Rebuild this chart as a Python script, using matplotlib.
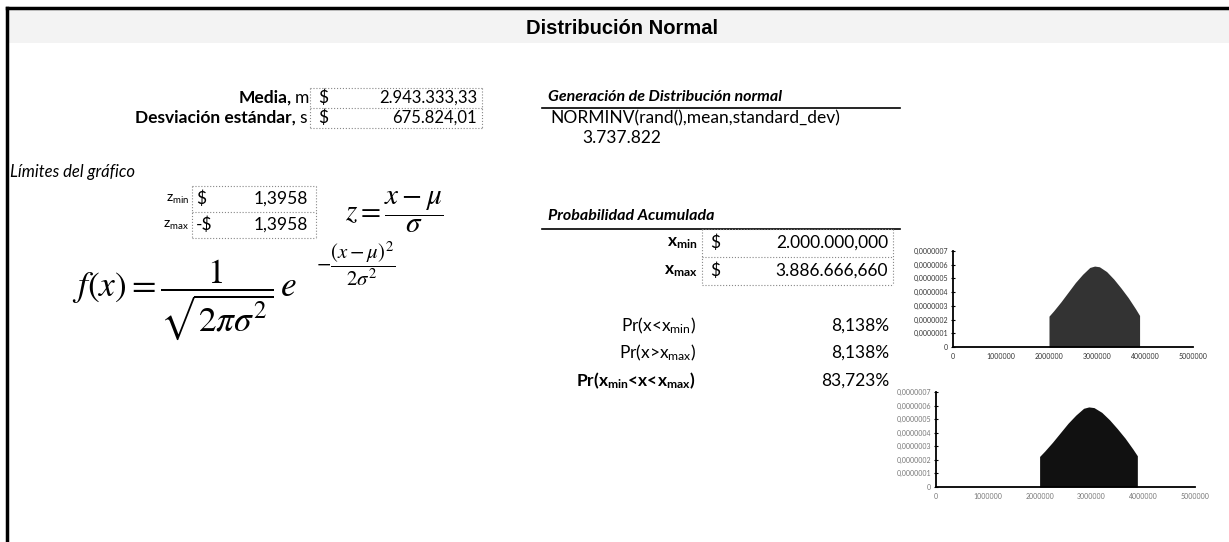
import matplotlib.pyplot as plt
import matplotlib.patches as mpatches

plt.rcParams.update({
    'font.family': ['Lato', 'DejaVu Sans'],
    'mathtext.fontset': 'custom',
    'mathtext.rm': 'Lato',
    'mathtext.it': 'Lato:italic',
    'mathtext.bf': 'Lato:bold',
})

# ---------------------------------------------------------------
# values
# ---------------------------------------------------------------
media_txt = '2.943.333,33'
desv_txt = '675.824,01'
z_vals = ['1,3958', '1,3958']
z_signs = ['$', '-$']
norminv_txt = 'NORMINV(rand(),mean,standard_dev)'
sample_txt = '3.737.822'
x_limits = ['2.000.000,000', '3.886.666,660']
prob_labels = ['Pr(x<x$_{\\rm min}$)', 'Pr(x>x$_{\\rm max}$)',
               'Pr(x$_{\\bf min}$<x<x$_{\\bf max}$)']
prob_vals = ['8,138%', '8,138%', '83,723%']

# shaded normal curve between x_min and x_max (y in 1e-7)
pdf_x = [2.0e6, 2.1e6, 2.25e6, 2.4e6, 2.55e6, 2.7e6, 2.85e6, 2.95e6,
         3.05e6, 3.2e6, 3.35e6, 3.5e6, 3.65e6, 3.8e6, 3.887e6]
pdf_y = [2.25, 2.65, 3.3, 4.0, 4.7, 5.3, 5.8, 5.9,
         5.85, 5.5, 4.95, 4.3, 3.6, 2.8, 2.3]
x_ticks = [0, 1000000, 2000000, 3000000, 4000000, 5000000]
y_ticks = [0, 1, 2, 3, 4, 5, 6, 7]
y_tick_labels = ['0', '0,0000001', '0,0000002', '0,0000003', '0,0000004',
                 '0,0000005', '0,0000006', '0,0000007']

W, H = 1229, 542
fig = plt.figure(figsize=(W / 100, H / 100), dpi=100)
bg = fig.add_axes([0, 0, 1, 1])
bg.set_xlim(0, W)
bg.set_ylim(H, 0)
bg.axis('off')

FS = 12.5
HS = 11.5   # bold italic headings


def box(x0, x1, ys):
    # dotted cell grid
    for y in ys:
        bg.plot([x0, x1], [y, y], color='#888888', lw=0.8, ls=':')
    for x in (x0, x1):
        bg.plot([x, x], [ys[0], ys[-1]], color='#888888', lw=0.8, ls=':')


# frame and header band
bg.add_patch(mpatches.Rectangle((7, 8), W, 35, color='#f3f3f3', lw=0))
bg.plot([7, W], [8, 8], color='black', lw=2.5)
bg.plot([7, 7], [8, H], color='black', lw=2.5)
bg.text(622, 28, 'Distribución Normal', ha='center', va='center',
        fontsize=14.5, fontweight='bold', family='Liberation Sans')

# mean / sd block
bg.text(292, 98, 'Media,', ha='right', va='center', fontsize=FS, fontweight='bold')
bg.text(295, 98, 'm', ha='left', va='center', fontsize=FS)
bg.text(296, 118, 'Desviación estándar,', ha='right', va='center',
        fontsize=FS, fontweight='bold')
bg.text(299, 118, 's', ha='left', va='center', fontsize=FS)
box(310, 482, [88, 108, 128])
for y, v in zip([98, 118], [media_txt, desv_txt]):
    bg.text(318, y, '$', ha='left', va='center', fontsize=FS, parse_math=False)
    bg.text(477, y, v, ha='right', va='center', fontsize=FS - 0.5)

# limits block
bg.text(10, 172, 'Límites del gráfico', ha='left', va='center',
        fontsize=FS - 0.5, style='italic')
box(192, 316, [186, 212, 238])
for y, sub, sg, v in zip([199, 225], ['min', 'max'], z_signs, z_vals):
    bg.text(189, y, 'z$_{\\rm %s}$' % sub, ha='right', va='center', fontsize=FS - 2.5)
    bg.text(196, y, sg, ha='left', va='center', fontsize=FS, parse_math=False)
    bg.text(308, y, v, ha='right', va='center', fontsize=FS)

bg.text(345, 212, r'$z=\dfrac{x-\mu}{\sigma}$', ha='left', va='center',
        fontsize=21, math_fontfamily='stix')
bg.text(72, 300, r'$f(x)=\dfrac{1}{\sqrt{2\pi\sigma^2}}\,e$', ha='left',
        va='center', fontsize=25.5, math_fontfamily='stix')
bg.text(316, 264, r'$-\dfrac{(x-\mu)^2}{2\sigma^2}$', ha='left', va='center',
        fontsize=15, math_fontfamily='stix')

# generation block
bg.text(548, 97, 'Generación de Distribución normal', ha='left', va='center',
        fontsize=HS, fontweight='bold', style='italic')
bg.plot([542, 900], [108, 108], color='black', lw=1.2)
bg.text(550, 118, norminv_txt, ha='left', va='center', fontsize=FS)
bg.text(582, 138, sample_txt, ha='left', va='center', fontsize=FS)

# cumulative probability block
bg.text(548, 216, 'Probabilidad Acumulada', ha='left', va='center',
        fontsize=HS, fontweight='bold', style='italic')
bg.plot([542, 900], [229, 229], color='black', lw=1.2)
box(702, 893, [229, 257, 285])
for y, sub, v in zip([243, 271], ['min', 'max'], x_limits):
    bg.text(698, y, 'x$_{\\bf %s}$' % sub, ha='right', va='center',
            fontsize=FS, fontweight='bold')
    bg.text(710, y, '$', ha='left', va='center', fontsize=FS, parse_math=False)
    bg.text(888, y, v, ha='right', va='center', fontsize=FS)
for y, lab, v, wt in zip([326, 353, 381], prob_labels, prob_vals,
                         ['normal', 'normal', 'bold']):
    bg.text(696, y, lab, ha='right', va='center', fontsize=FS, fontweight=wt)
    bg.text(889, y, v, ha='right', va='center', fontsize=FS)


def curve_axes(l, r, t, b, fill, lab_color):
    ax = fig.add_axes([l / W, (H - b) / H, (r - l) / W, (b - t) / H])
    ax.fill_between(pdf_x, [v * 1e-7 for v in pdf_y], 0, color=fill, lw=0)
    ax.set_xlim(0, 5000000)
    ax.set_ylim(0, 7e-7)
    ax.set_xticks(x_ticks)
    ax.set_xticklabels([str(v) for v in x_ticks], fontsize=5, color=lab_color)
    ax.set_yticks([v * 1e-7 for v in y_ticks])
    ax.set_yticklabels(y_tick_labels, fontsize=5, color=lab_color)
    ax.tick_params(axis='both', direction='inout', length=3, width=0.8, pad=2)
    ax.tick_params(axis='x', length=0, pad=4)
    for s in ('top', 'right'):
        ax.spines[s].set_visible(False)
    for s in ('left', 'bottom'):
        ax.spines[s].set_linewidth(1.3)
    ax.patch.set_alpha(0)
    return ax


curve_axes(953, 1193, 251, 347, '#333333', '#333333')
curve_axes(936, 1195, 392, 487, '#111111', '#777777')

fig.savefig('out.png', dpi=100)
